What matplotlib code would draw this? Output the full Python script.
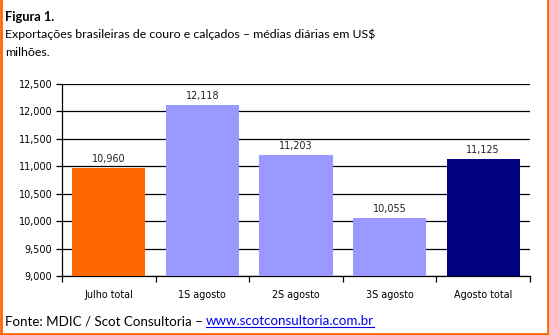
import numpy as np
import matplotlib.pyplot as plt
from matplotlib.lines import Line2D

# Chart data
categories = ['Julho total', '1S agosto', '2S agosto', '3S agosto', 'Agosto total']
values = [10960, 12118, 11203, 10055, 11125]
bar_colors = ['#FF6600', '#9999FF', '#9999FF', '#9999FF', '#000080']
y_ticks = [9000, 9500, 10000, 10500, 11000, 11500, 12000, 12500]

W, H = 549, 335
fig = plt.figure(figsize=(W / 100, H / 100), dpi=100)
plt.rcParams['font.family'] = ['DejaVu Sans']
head_font = ['Lato', 'DejaVu Sans']
small = 6.9

# Axes placed in pixel terms
left, right, top, bottom = 62, 530, 84, 276
ax = fig.add_axes([left / W, 1 - bottom / H, (right - left) / W, (bottom - top) / H])

x = np.arange(len(categories))
ax.bar(x, values, width=0.78, color=bar_colors, zorder=3)
for xi, v in zip(x, values):
    ax.text(xi, v + 75, f'{v:,}', ha='center', va='bottom', fontsize=small,
            color='#222222', zorder=4)

ax.set_ylim(9000, 12500)
ax.set_xlim(-0.5, len(categories) - 0.5)
ax.set_yticks(y_ticks)
ax.set_yticklabels([f'{t:,}' for t in y_ticks], fontsize=small)
ax.yaxis.grid(True, color='black', linewidth=0.9, zorder=0)

# category labels centered, tick marks at the boundaries
ax.set_xticks(x)
ax.set_xticklabels(categories, fontsize=small)
ax.tick_params(axis='x', length=0, pad=10)
ax.set_xticks(np.arange(len(categories) + 1) - 0.5, minor=True)
ax.tick_params(axis='x', which='minor', length=4, width=0.9, color='black')
ax.tick_params(axis='y', length=4, width=0.9, pad=3)

for s in ['top', 'right']:
    ax.spines[s].set_visible(False)
for s in ['left', 'bottom']:
    ax.spines[s].set_linewidth(0.9)

# Title block
fig.text(5 / W, 1 - 21 / H, 'Figura 1.', fontsize=9.2, fontweight='bold',
         va='baseline', family=head_font)
fig.text(5 / W, 1 - 38 / H, 'Exportações brasileiras de couro e calçados – médias diárias em US$',
         fontsize=8.9, va='baseline', family=head_font)
fig.text(5 / W, 1 - 56 / H, 'milhões.', fontsize=8.9, va='baseline', family=head_font)

# Footer with link
fig.canvas.draw()
r = fig.canvas.get_renderer()
t1 = fig.text(5 / W, 1 - 325 / H, 'Fonte: MDIC / Scot Consultoria – ', fontsize=9.6,
              va='baseline', family=head_font)
bb = t1.get_window_extent(renderer=r)
t2 = fig.text(bb.x1 / W, 1 - 325 / H, 'www.scotconsultoria.com.br', fontsize=9.6,
              va='baseline', color='#0000EE', family=head_font)
bb2 = t2.get_window_extent(renderer=r)
fig.add_artist(Line2D([bb2.x0 / W, bb2.x1 / W], [(H - 327) / H] * 2,
                      color='#0000EE', linewidth=0.8))

# Orange frame
frame = dict(color='#FF6600', linewidth=2)
fig.add_artist(Line2D([1 / W, 1 / W], [0, 1], **frame))
fig.add_artist(Line2D([547.5 / W, 547.5 / W], [0, 1], **frame))
fig.add_artist(Line2D([0, 1], [1.5 / H, 1.5 / H], **frame))

fig.savefig('out.png', dpi=100)
